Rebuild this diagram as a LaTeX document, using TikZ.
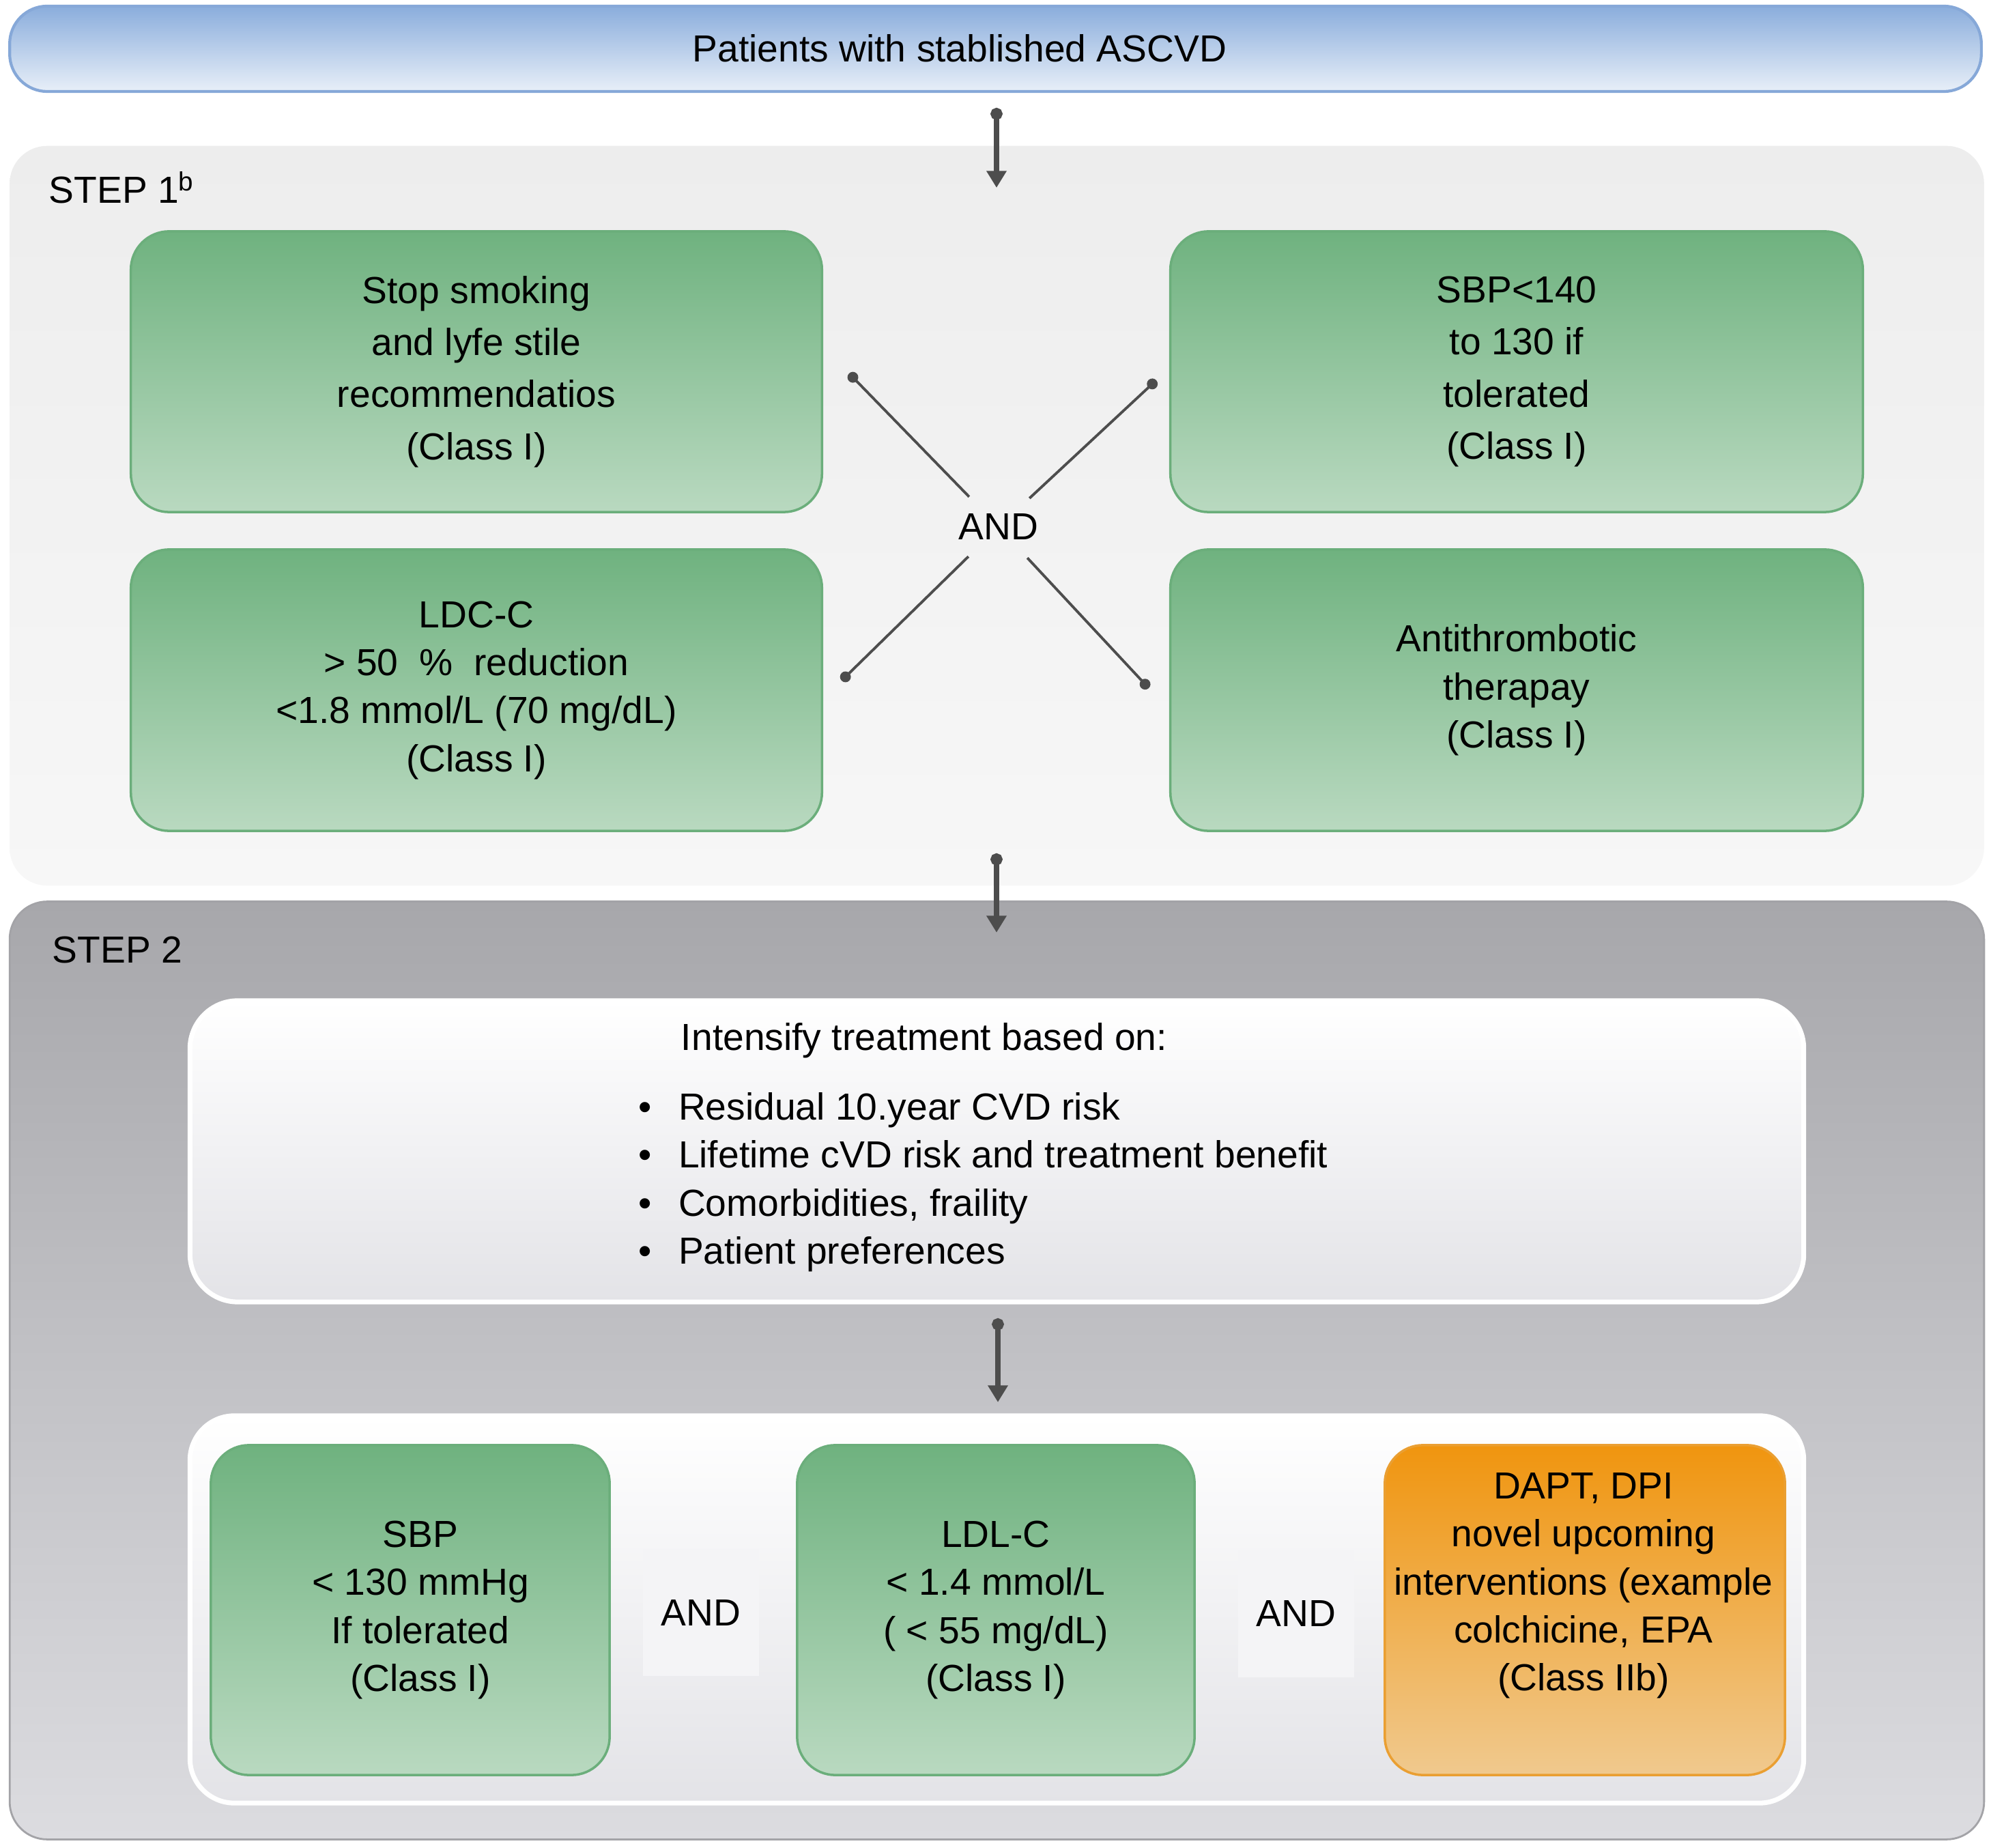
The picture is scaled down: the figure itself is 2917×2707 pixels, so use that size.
\documentclass[tikz,border=0pt]{standalone}
\usepackage{fontspec}
\setmainfont{Liberation Sans}
\usepackage{tikz}
\usetikzlibrary{arrows.meta}
\usetikzlibrary{positioning}

\definecolor{bannertop}{HTML}{8AADDC}
\definecolor{bannerbot}{HTML}{E8EFF8}
\definecolor{bannerline}{HTML}{86A8D8}
\definecolor{paneltop}{HTML}{EDEDED}
\definecolor{panelbot}{HTML}{F7F7F7}
\definecolor{darktop}{HTML}{A7A7AB}
\definecolor{darkbot}{HTML}{DCDCE0}
\definecolor{darkline}{HTML}{A3A3A7}
\definecolor{greentop}{HTML}{6FB27F}
\definecolor{greenbot}{HTML}{B9D9C0}
\definecolor{greenline}{HTML}{6BAE7B}
\definecolor{orangetop}{HTML}{F0950F}
\definecolor{orangebot}{HTML}{F0C98E}
\definecolor{orangeline}{HTML}{EA9F32}
\definecolor{whitebot}{HTML}{E3E3E7}
\definecolor{andbg}{HTML}{F4F4F6}
\definecolor{arrowgray}{HTML}{4D4D4D}

\tikzset{
  txt/.style={font=\fontsize{15.7}{20}\selectfont, align=center, inner sep=0pt},
  banner/.style={draw=bannerline, line width=1.2pt, top color=bannertop, bottom color=bannerbot, rounded corners=0.55cm},
  panelone/.style={top color=paneltop, bottom color=panelbot, rounded corners=0.55cm},
  paneltwo/.style={draw=darkline, line width=0.8pt, top color=darktop, bottom color=darkbot, rounded corners=0.55cm},
  whitebox/.style={draw=white, line width=2pt, top color=white, bottom color=whitebot, rounded corners=0.7cm},
  greenbox/.style={txt, draw=greenline, line width=1pt, top color=greentop, bottom color=greenbot, rounded corners=0.56cm},
  orangebox/.style={draw=orangeline, line width=1pt, top color=orangetop, bottom color=orangebot, rounded corners=0.56cm},
  andbox/.style={txt, fill=andbg, minimum width=1.69cm, minimum height=1.86cm},
  flowarrow/.style={arrowgray, line width=2pt, {Circle[length=5pt]}-{Triangle[width=8pt,length=7pt]}},
  xline/.style={arrowgray, line width=1.1pt, {Circle[length=4.5pt]}-},
}

\begin{document}
\begin{tikzpicture}[x=0.01cm, y=-0.01cm]
  \useasboundingbox (0,0) rectangle (2917,2707);

  % Draw the banner and the two step panels
  \node[banner, minimum width=28.87cm, minimum height=1.25cm] (banner) at (1458.5,71.5) {};
  \node[txt] (bannertext) at (1406,71) {Patients with stablished ASCVD};
  \node[panelone, minimum width=28.91cm, minimum height=10.83cm] (stepone) at (1460.5,755.5) {};
  \node[paneltwo, minimum width=28.91cm, minimum height=13.73cm] (steptwo) at (1460.5,2007.5) {};

  % Label the steps
  \node[txt, anchor=west] (steponelabel) at (71,275) {STEP 1\textsuperscript{b}};
  \node[txt, anchor=west] (steptwolabel) at (76,1391) {STEP 2};

  % Step 1 boxes
  \node[greenbox, font=\fontsize{15.7}{21.7}\selectfont, minimum width=10.12cm, minimum height=4.11cm] (smoking) at (698,544.5)
    {Stop smoking\\ and lyfe stile\\recommendatios\\(Class I)};
  \node[greenbox, font=\fontsize{15.7}{21.7}\selectfont, minimum width=10.14cm, minimum height=4.11cm] (sbpone) at (2222,544.5)
    {SBP<140\\to 130 if\\ tolerated\\(Class I)};
  \node[greenbox, minimum width=10.12cm, minimum height=4.12cm] (ldcc) at (698,1011)
    {LDC-C\\> 50~~\%~~reduction\\<1.8 mmol/L (70 mg/dL)\\(Class I)};
  \node[greenbox, minimum width=10.14cm, minimum height=4.12cm] (antithr) at (2222,1011)
    {Antithrombotic\\therapay\\(Class I)};

  % The AND cross
  \node[txt, circle] (andone) at (1463,772) {AND};
  \coordinate (xtl) at (1244,547);
  \coordinate (xtr) at (1694,557);
  \coordinate (xbl) at (1233,997);
  \coordinate (xbr) at (1683,1008);
  \draw[xline] (xtl) -- (andone);
  \draw[xline] (xtr) -- (andone);
  \draw[xline] (xbl) -- (andone);
  \draw[xline] (xbr) -- (andone);

  % Step 2 boxes
  \node[whitebox, minimum width=23.63cm, minimum height=4.41cm] (intensify) at (1460.5,1686.5) {};
  \node[txt] (intensifyhead) at (1354,1524) {Intensify treatment based on:};
  \node[txt, anchor=west] (intensifylist) at (935,1732)
    {\begin{tabular}{@{}l@{\hspace{0.39cm}}l@{}}
     \textbullet & Residual 10.year CVD risk\\
     \textbullet & Lifetime cVD risk and treatment benefit\\
     \textbullet & Comorbidities, fraility\\
     \textbullet & Patient preferences
     \end{tabular}};
  \node[whitebox, rounded corners=0.65cm, minimum width=23.63cm, minimum height=5.67cm] (targets) at (1460.5,2357.5) {};

  \node[greenbox, minimum width=5.84cm, minimum height=4.83cm] (sbptwo) at (601,2358.5)
    {\hspace*{0.3cm}SBP\\\hspace*{0.3cm}< 130 mmHg\\\hspace*{0.3cm}If tolerated\\\hspace*{0.3cm}(Class I)};
  \node[greenbox, minimum width=5.82cm, minimum height=4.83cm] (ldlc) at (1459,2358.5)
    {LDL-C\\< 1.4 mmol/L\\( < 55 mg/dL)\\(Class I)};
  \node[orangebox, minimum width=5.86cm, minimum height=4.83cm] (dapt) at (2322,2358.5) {};
  \node[txt] (dapttext) at (2320,2323)
    {DAPT, DPI\\novel upcoming\\interventions (example\\colchicine, EPA\\(Class IIb)};
  \node[andbox] (andtwo) at (1027,2362) {AND};
  \node[andbox] (andthree) at (1899,2364) {AND};

  % Arrows between the stages
  \coordinate (aonestart) at (1460,158);
  \coordinate (aoneend) at (1460,275);
  \coordinate (atwostart) at (1460,1250);
  \coordinate (atwoend) at (1460,1366);
  \coordinate (athreestart) at (1462,1931);
  \coordinate (athreeend) at (1462,2054);
  \draw[flowarrow] (aonestart) -- (aoneend);
  \draw[flowarrow] (atwostart) -- (atwoend);
  \draw[flowarrow] (athreestart) -- (athreeend);
\end{tikzpicture}
\end{document}
